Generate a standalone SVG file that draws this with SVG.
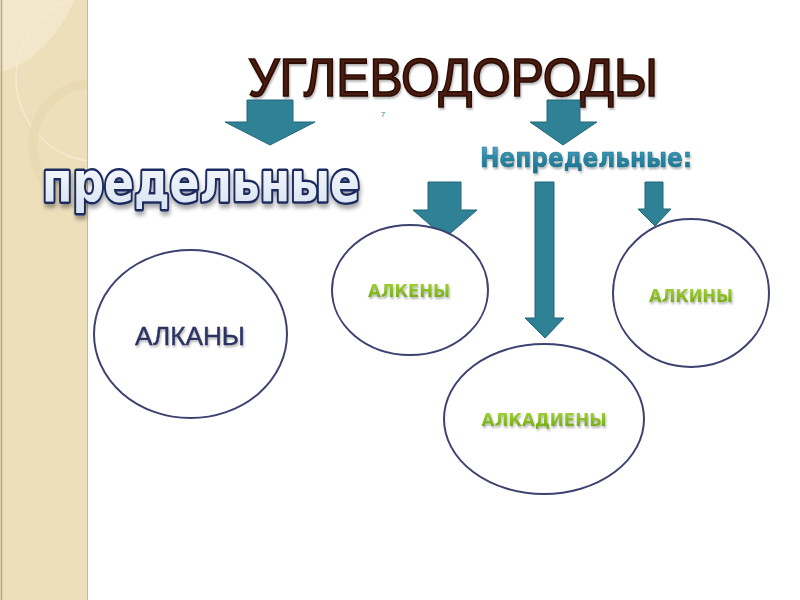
<svg xmlns="http://www.w3.org/2000/svg" width="800" height="600" viewBox="0 0 800 600">
<defs>
<style>
.arrow{fill:#2f8196;stroke:#23677a;stroke-width:1}
.node{fill:#ffffff;stroke:#3d4270;stroke-width:2}
.green{font-family:"DejaVu Sans",sans-serif;font-weight:bold;font-size:17px;fill:url(#gGreen);text-anchor:middle}
</style>
<clipPath id="stripClip"><rect x="0" y="0" width="88" height="600"/></clipPath>
<linearGradient id="gGreen" x1="0" y1="0" x2="0" y2="1">
<stop offset="0" stop-color="#a6d63a"/>
<stop offset="1" stop-color="#6ea314"/>
</linearGradient>
<linearGradient id="gTeal" x1="0" y1="0" x2="0" y2="1">
<stop offset="0" stop-color="#5fb3cc"/>
<stop offset="0.5" stop-color="#2a88a6"/>
<stop offset="1" stop-color="#1b6f8a"/>
</linearGradient>
<linearGradient id="gWhite" x1="0" y1="0" x2="0" y2="1">
<stop offset="0" stop-color="#ffffff"/>
<stop offset="1" stop-color="#d5e1f0"/>
</linearGradient>
<filter id="shadow" x="-10%" y="-20%" width="120%" height="150%">
<feGaussianBlur in="SourceAlpha" stdDeviation="2"/>
<feOffset dx="1" dy="4" result="b"/>
<feComponentTransfer><feFuncA type="linear" slope="0.35"/></feComponentTransfer>
<feMerge><feMergeNode/><feMergeNode in="SourceGraphic"/></feMerge>
</filter>
<filter id="soft" x="-10%" y="-20%" width="120%" height="150%">
<feGaussianBlur in="SourceAlpha" stdDeviation="1"/>
<feOffset dx="1" dy="2"/>
<feComponentTransfer><feFuncA type="linear" slope="0.3"/></feComponentTransfer>
<feMerge><feMergeNode/><feMergeNode in="SourceGraphic"/></feMerge>
</filter>
</defs>
<rect width="800" height="600" fill="#ffffff"/>
<g id="side-strip">
<rect x="0" y="0" width="88" height="600" fill="#eedfbb"/>
<g clip-path="url(#stripClip)">
<path d="M0,72 Q45,62 75,0 H0 Z" fill="#f3e7cb"/>
<circle cx="100" cy="78" r="84" fill="none" stroke="#f6ecd3" stroke-width="1.2"/>
<circle cx="95" cy="145" r="62" fill="none" stroke="#e7d7b0" stroke-width="9" opacity="0.7"/>
</g>
<line x1="1.5" y1="0" x2="1.5" y2="600" stroke="#b9a57a" stroke-width="1.5"/>
<line x1="87.5" y1="0" x2="87.5" y2="600" stroke="#cdbb90" stroke-width="1"/>
</g>
<g id="title">
<text x="453" y="96" font-family="Liberation Sans, Arial, sans-serif" font-size="53" fill="#4a1a10" stroke="#2a0c06" stroke-width="1.6" textLength="410" lengthAdjust="spacingAndGlyphs" text-anchor="middle" filter="url(#soft)">УГЛЕВОДОРОДЫ</text>
<text x="383" y="117" font-family="Liberation Sans, Arial, sans-serif" font-size="8" fill="#3a8aa0" text-anchor="middle">7</text>
</g>
<g id="connectors">
<path class="arrow" d="M247,100 H293 V122 H315 L270,145 L225,122 H247 Z"/>
<path class="arrow" d="M547,100 H580 V122 H597 L563,145 L530,122 H547 Z"/>
<path class="arrow" d="M428,182 H461 V210 H477 L445,238 L413,210 H428 Z"/>
<path class="arrow" d="M535,182 H554 V318 H564 L545,338 L525,318 H535 Z"/>
<path class="arrow" d="M645,182 H663 V209 H671 L655,226 L638,209 H645 Z"/>
</g>
<g id="saturated">
<text x="201" y="201" font-family="DejaVu Sans, Verdana, sans-serif" font-weight="bold" font-size="56" fill="url(#gWhite)" stroke="#1b2c5e" stroke-width="5" stroke-linejoin="round" paint-order="stroke" textLength="318" lengthAdjust="spacingAndGlyphs" text-anchor="middle" filter="url(#shadow)">предельные</text>
</g>
<g id="unsaturated">
<text x="586" y="167" font-family="DejaVu Sans, Verdana, sans-serif" font-weight="bold" font-size="27" fill="url(#gTeal)" stroke="#1b6f8a" stroke-width="0.5" textLength="212" lengthAdjust="spacingAndGlyphs" text-anchor="middle" filter="url(#soft)">Непредельные:</text>
</g>
<g id="alkanes">
<ellipse class="node" cx="190.5" cy="334" rx="96.5" ry="84"/>
<text x="190" y="345" font-family="Liberation Sans, Arial, sans-serif" font-size="25" fill="#2b3463" stroke="#2b3463" stroke-width="0.4" text-anchor="middle" textLength="110" lengthAdjust="spacingAndGlyphs" filter="url(#soft)">АЛКАНЫ</text>
</g>
<g id="alkenes">
<ellipse class="node" cx="410" cy="290" rx="78" ry="65"/>
<text class="green" x="409" y="297" textLength="82" lengthAdjust="spacingAndGlyphs" filter="url(#soft)">АЛКЕНЫ</text>
</g>
<g id="alkadienes">
<ellipse class="node" cx="544" cy="419" rx="100" ry="75"/>
<text class="green" x="544" y="426" textLength="125" lengthAdjust="spacingAndGlyphs" filter="url(#soft)">АЛКАДИЕНЫ</text>
</g>
<g id="alkynes">
<ellipse class="node" cx="691" cy="293" rx="78" ry="74"/>
<text class="green" x="691" y="302" textLength="84" lengthAdjust="spacingAndGlyphs" filter="url(#soft)">АЛКИНЫ</text>
</g>
</svg>
